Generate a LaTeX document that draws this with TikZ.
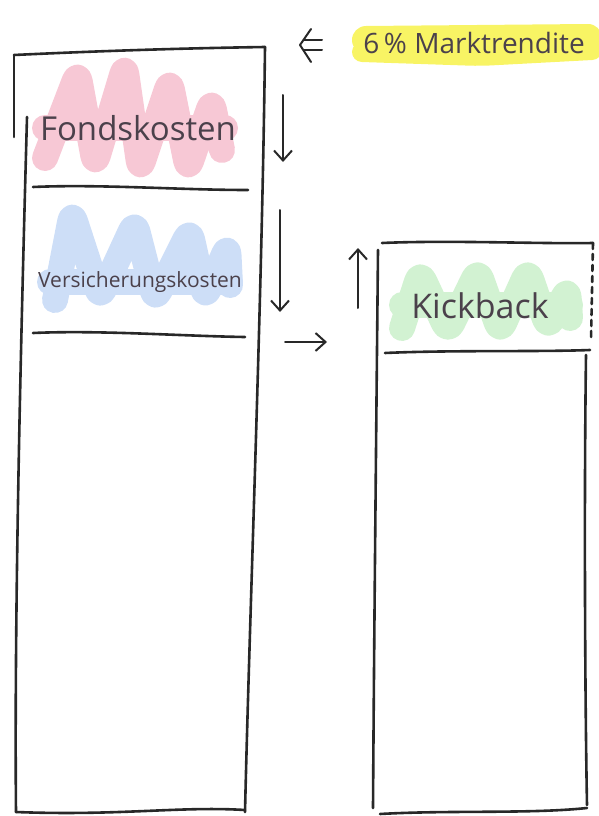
\documentclass[tikz,border=0pt]{standalone}
\usepackage{fontspec}
\setmainfont{Open Sans}
\usetikzlibrary{arrows.meta}
\definecolor{ink}{RGB}{40,40,40}
\definecolor{penink}{RGB}{75,65,75}
\definecolor{hlpink}{RGB}{247,200,213}
\definecolor{hlblue}{RGB}{205,222,247}
\definecolor{hlgreen}{RGB}{210,242,210}
\definecolor{hlyellow}{RGB}{248,244,100}
\tikzset{
  edge/.style={draw=ink, line width=2.6pt, line cap=round, line join=round},
  marker/.style={line width=26pt, line cap=round, line join=round, rounded corners=10pt},
  label/.style={text=penink, inner sep=0pt},
  arr/.style={draw=ink, line width=2pt, line cap=round, -{Straight Barb[length=10pt,width=18pt,line width=2pt]}}
}
\begin{document}
\begin{tikzpicture}[x=1pt,y=-1pt]
\useasboundingbox (0,0) rectangle (598,816);
% highlighter strokes
\draw[marker, hlpink] (45,158) -- (78,72) -- (95,165) -- (125,65) -- (140,170) -- (170,80) -- (188,170) -- (212,100) -- (222,150);
\draw[marker, hlpink] (45,128) -- (225,128);
\draw[marker, hlblue] (55,300) -- (72,212) -- (100,298) -- (135,222) -- (155,300) -- (190,230) -- (205,298) -- (228,245) -- (230,285);
\draw[marker, hlblue] (50,282) -- (230,282);
\draw[marker, hlgreen] (402,328) -- (420,272) -- (448,332) -- (478,270) -- (500,332) -- (528,270) -- (548,328) -- (568,288) -- (570,318);
\draw[marker, hlgreen] (402,305) -- (570,305);
\draw[marker, line width=28pt, hlyellow] (366,40) -- (588,38);
\draw[marker, line width=20pt, hlyellow] (362,52) -- (480,56) -- (592,50);
% left column
\draw[edge] (14,55) -- (14,137);
\draw[edge] (14,55) .. controls (120,50) and (200,48) .. (265,47);
\draw[edge] (265,47) .. controls (262,300) and (250,600) .. (245,812);
\draw[edge] (27,117) .. controls (22,300) and (14,600) .. (16,812);
\draw[edge] (16,812) .. controls (120,816) and (180,806) .. (245,810);
\draw[edge] (33,187) .. controls (100,184) and (180,190) .. (248,190);
\draw[edge] (33,333) .. controls (100,330) and (180,336) .. (245,337);
\node[label, font=\fontsize{33}{36}\selectfont] (fonds) at (138,128) {Fondskosten};
\node[label, font=\fontsize{21}{24}\selectfont] (vers) at (140,282) {Versicherungskosten};
% right column
\draw[edge] (382,243) .. controls (450,240) and (540,244) .. (593,243);
\draw[edge, dash pattern=on 6pt off 5pt] (593,243) -- (591,340);
\draw[edge] (378,250) .. controls (376,450) and (374,650) .. (373,808);
\draw[edge] (385,353) .. controls (450,350) and (540,352) .. (590,350);
\draw[edge] (586,355) .. controls (584,500) and (585,700) .. (587,805);
\draw[edge] (380,814) .. controls (450,810) and (530,814) .. (587,808);
\node[label, font=\fontsize{34}{38}\selectfont] (kick) at (480,306) {Kickback};
% top text
\node[label, font=\fontsize{28}{32}\selectfont] (rendite) at (474,43) {6\,\% Marktrendite};
% arrows
\coordinate (d1a) at (283,95);
\coordinate (d1b) at (283,162);
\coordinate (d2a) at (280,210);
\coordinate (d2b) at (280,312);
\coordinate (ra) at (285,342);
\coordinate (rb) at (327,342);
\coordinate (ua) at (358,308);
\coordinate (ub) at (358,248);
\draw[arr] (d1a) -- (d1b);
\draw[arr] (d2a) -- (d2b);
\draw[arr] (ra) -- (rb);
\draw[arr] (ua) -- (ub);
% double arrow
\coordinate (dtip) at (300,45);
\draw[edge, line width=2pt] (322,40) -- (304,40);
\draw[edge, line width=2pt] (322,50) -- (304,50);
\draw[edge, line width=2pt] (311,29) -- (dtip) -- (311,62);
\end{tikzpicture}
\end{document}
